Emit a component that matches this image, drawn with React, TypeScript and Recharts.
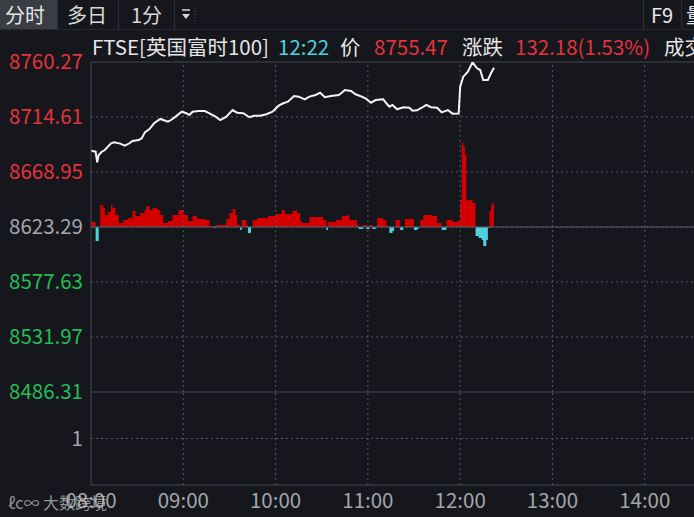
import {
  ComposedChart,
  Line,
  Area,
  XAxis,
  YAxis,
  ReferenceLine,
} from "recharts";

// minutes since 08:00 and the index level read at that minute
const priceMinutes = [
  0, 3, 4, 5, 7, 9, 11, 13, 15, 19, 22, 25, 27, 31, 33, 35, 38, 41, 45, 47,
  50, 52, 55, 59, 62, 64, 66, 70, 74, 77, 81, 84, 88, 92, 95, 99, 103, 106, 110, 114,
  118, 122, 125, 128, 132, 135, 139, 142, 146, 149, 152, 156, 161, 163, 165, 169, 172, 176, 179, 182,
  185, 190, 192, 194, 196, 199, 203, 207, 209, 212, 215, 218, 221, 225, 228, 232, 235, 239, 240, 242,
  245, 248, 251, 253, 255, 258, 260, 262,
];
const prices = [
  8686.6, 8685.8, 8677.0, 8683.1, 8685.8, 8687.2, 8690.0, 8692.8, 8693.6, 8692.5,
  8690.8, 8692.8, 8694.7, 8695.5, 8697.0, 8701.9, 8704.6, 8709.4, 8713.0, 8712.1,
  8710.7, 8712.1, 8714.9, 8719.0, 8717.7, 8716.3, 8719.0, 8719.6, 8719.6, 8717.7,
  8714.9, 8712.1, 8714.9, 8720.4, 8718.2, 8717.7, 8714.4, 8715.7, 8715.7, 8716.9,
  8719.0, 8724.0, 8726.0, 8727.3, 8732.0, 8731.5, 8729.3, 8731.5, 8732.9, 8734.8,
  8731.0, 8732.0, 8732.9, 8734.8, 8737.0, 8736.2, 8733.5, 8731.5, 8729.6, 8726.5,
  8728.7, 8729.3, 8726.0, 8723.2, 8724.6, 8721.0, 8722.7, 8722.3, 8719.8, 8720.2,
  8722.3, 8724.6, 8722.7, 8722.3, 8718.5, 8720.4, 8717.4, 8717.5, 8739.8, 8748.1,
  8752.2, 8760.0, 8755.0, 8753.6, 8745.3, 8745.3, 8750.9, 8755.47,
];

// buy/sell strength bars (red up, cyan down)
const strengthMinutes = [
  0, 3, 5, 6, 8, 9, 11, 13, 14, 16, 18, 21, 24, 27, 29, 32, 35, 36, 38, 40,
  43, 45, 47, 50, 53, 57, 60, 63, 66, 69, 74, 77, 80, 81, 85, 88, 90, 92, 94, 95,
  97, 98, 101, 102, 104, 105, 108, 115, 120, 124, 126, 131, 133, 134, 136, 137, 142, 151, 153, 154,
  159, 163, 167, 168, 173, 174, 177, 179, 181, 183, 185, 186, 190, 192, 194, 196, 197, 198, 201, 203,
  204, 210, 212, 213, 214, 216, 222, 225, 228, 231, 235, 238, 240, 241, 242, 243, 244, 245, 246, 248,
  250, 252, 254, 255, 257, 258, 259, 260, 261, 262,
];
const strengthValues = [
  5, -14, 0, 22, 19, 12, 15, 22, 19, 12, 4, 7, 9, 16, 11, 14, 17, 21, 17, 19,
  17, 12, 4, 6, 12, 17, 12, 6, 11, 8, 7, 1, -1, 2, 2, 8, 14, 18, 12, 2,
  -3, 7, 2, -6, 0, 7, 9, 11, 13, 17, 13, 16, 17, 14, 6, 4, 10, 7, -3, 5,
  7, 11, 12, 7, 2, -2, 2, -2, 2, -2, 0, 9, 7, 1, -6, -4, 0, 7, -3, 0,
  8, -3, -2, 0, 7, 12, 11, 4, -3, 7, 5, 6, 27, 84, 81, 72, 27, 26, 27, 24,
  -9, -11, -13, -19, -13, -1, 16, 22, 24, 24,
];

const prevClose = 8623.29;
const priceTicks = [8486.31, 8531.97, 8577.63, 8623.29, 8668.95, 8714.61, 8760.27];
const volumeTicks = [1];
const timeTicks = [0, 60, 120, 180, 240, 300, 360];
const timeLabels = ["08:00", "09:00", "10:00", "11:00", "12:00", "13:00", "14:00"];

const FONT = '"Noto Sans CJK SC", "Noto Sans", sans-serif';
const BG = "#15171c";
const RED = "#e3333b";
const GREEN = "#22bd55";
const GREY = "#a3a6ab";
const CYAN = "#4cd3df";
const GRID = "#555963";
const SOLID = "#45484f";

const table = (() => {
  const rows: Record<number, any> = {};
  priceMinutes.forEach((t, i) => {
    rows[t] = { ...(rows[t] || { t }), price: prices[i] };
  });
  strengthMinutes.forEach((t, i) => {
    const v = strengthValues[i];
    rows[t] = { ...(rows[t] || { t }), up: v > 0 ? v : 0, down: v < 0 ? v : 0 };
  });
  return Object.values(rows).sort((a, b) => a.t - b.t);
})();

const PriceTick = (props: any) => {
  const { x, y, payload } = props;
  const v = payload.value;
  const color = v > prevClose + 0.001 ? RED : v < prevClose - 0.001 ? GREEN : GREY;
  return (
    <text x={x} y={y} dy="0.355em" textAnchor="end" fill={color} fontSize={20.5} fontFamily={FONT}>
      {v.toFixed(2)}
    </text>
  );
};

const abs = (left: number, top: number, extra: any = {}) => ({
  position: "absolute" as const,
  left,
  top,
  whiteSpace: "nowrap" as const,
  ...extra,
});

const dotted = { stroke: GRID, strokeDasharray: "2 3", strokeWidth: 1 };

export default function App() {
  return (
    <div
      style={{
        position: "fixed",
        left: 0,
        top: 0,
        width: 694,
        height: 517,
        overflow: "hidden",
        background: BG,
        fontFamily: FONT,
        fontSize: 20,
        color: "#e6e6e6",
      }}
    >
      {/* toolbar */}
      <div style={abs(0, 0, { width: 57, height: 29, background: "#3a3d44" })} />
      <div style={abs(5, 1, { lineHeight: "28px" })}>分时</div>
      <div style={abs(57, 0, { width: 1, height: 29, background: "#2c2f35" })} />
      <div style={abs(67, 1, { lineHeight: "28px", color: "#d8d8d8" })}>多日</div>
      <div style={abs(118, 0, { width: 1, height: 29, background: "#2c2f35" })} />
      <div style={abs(131, 1, { lineHeight: "28px", color: "#d8d8d8" })}>1分</div>
      <div style={abs(174, 0, { width: 1, height: 29, background: "#2c2f35" })} />
      <svg style={abs(180, 8)} width={20} height={14}>
        <line x1={2} y1={2} x2={10} y2={2} stroke="#d8d8d8" strokeWidth={1.5} />
        <polygon points="2,6 10,6 6,11" fill="#d8d8d8" />
        <line x1={15} y1={0} x2={15} y2={14} stroke="#555" strokeDasharray="1 2" />
      </svg>
      <div style={abs(0, 29, { width: 694, height: 1, background: "#25282e" })} />
      <div style={abs(643, 0, { width: 1, height: 29, background: "#2c2f35" })} />
      <div style={abs(681, 0, { width: 1, height: 29, background: "#2c2f35" })} />
      <div style={abs(651, 1, { lineHeight: "28px", color: "#e8e8e8" })}>F9</div>
      <div style={abs(686, 1, { lineHeight: "28px", color: "#e8e8e8" })}>量</div>

      {/* header */}
      <div style={abs(92, 32, { lineHeight: "28px", fontSize: 20.5 })}>FTSE[英国富时100]</div>
      <div style={abs(278, 32, { lineHeight: "28px", color: CYAN, fontSize: 20.5 })}>12:22</div>
      <div style={abs(340, 32, { lineHeight: "28px", fontSize: 20.5 })}>价</div>
      <div style={abs(374, 32, { lineHeight: "28px", color: RED, fontSize: 20.5 })}>8755.47</div>
      <div style={abs(462, 32, { lineHeight: "28px", fontSize: 20.5 })}>涨跌</div>
      <div style={abs(515, 32, { lineHeight: "28px", color: RED, fontSize: 20.5 })}>132.18(1.53%)</div>
      <div style={abs(664, 32, { lineHeight: "28px", fontSize: 20.5 })}>成交</div>

      {/* price panel */}
      <div style={abs(0, 52)}>
        <ComposedChart
          width={694}
          height={350}
          data={table}
          margin={{ top: 10, right: 0, bottom: 10, left: 0 }}
        >
          <XAxis
            dataKey="t"
            type="number"
            domain={[0, 392]}
            ticks={timeTicks}
            allowDataOverflow
            hide
          />
          <YAxis
            yAxisId="p"
            type="number"
            domain={[priceTicks[0], priceTicks[priceTicks.length - 1]]}
            ticks={priceTicks}
            width={91}
            tickLine={false}
            axisLine={{ stroke: SOLID }}
            tick={<PriceTick />}
            allowDataOverflow
          />
          <YAxis yAxisId="s" type="number" domain={[-165, 165]} hide allowDataOverflow />
          {priceTicks.slice(1, -1).map((v) => (
            <ReferenceLine key={"h" + v} yAxisId="p" y={v} {...dotted} />
          ))}
          {timeTicks.slice(1).map((v) => (
            <ReferenceLine key={"v" + v} yAxisId="p" x={v} {...dotted} />
          ))}
          <ReferenceLine yAxisId="p" y={priceTicks[6]} stroke={SOLID} />
          <ReferenceLine yAxisId="p" y={priceTicks[0]} stroke={SOLID} />
          <ReferenceLine yAxisId="p" y={prevClose} stroke="#5a5d64" />
          <Area
            yAxisId="s"
            dataKey="up"
            type="stepAfter"
            baseValue={0}
            stroke="none"
            fill="#d40000"
            fillOpacity={1}
            connectNulls
            isAnimationActive={false}
          />
          <Area
            yAxisId="s"
            dataKey="down"
            type="stepAfter"
            baseValue={0}
            stroke="none"
            fill={CYAN}
            fillOpacity={1}
            connectNulls
            isAnimationActive={false}
          />
          <Line
            yAxisId="p"
            dataKey="price"
            type="linear"
            stroke="#f4f4f4"
            strokeWidth={2}
            dot={false}
            connectNulls
            isAnimationActive={false}
          />
        </ComposedChart>
      </div>

      {/* volume panel + time axis */}
      <div style={abs(0, 392)}>
        <ComposedChart
          width={694}
          height={125}
          data={table}
          margin={{ top: 0, right: 0, bottom: 0, left: 0 }}
        >
          <XAxis
            dataKey="t"
            type="number"
            domain={[0, 392]}
            ticks={timeTicks}
            tickFormatter={(v: number) => timeLabels[timeTicks.indexOf(v)] ?? ""}
            tickLine={false}
            axisLine={{ stroke: SOLID }}
            tick={{ fill: GREY, fontSize: 20.5, fontFamily: FONT }}
            height={32}
            interval={0}
            allowDataOverflow
          />
          <YAxis
            type="number"
            domain={[0, 2]}
            ticks={volumeTicks}
            width={91}
            tickLine={false}
            axisLine={{ stroke: SOLID }}
            tick={{ fill: GREY, fontSize: 20.5, fontFamily: FONT }}
            allowDataOverflow
          />
          {volumeTicks.map((v) => (
            <ReferenceLine key={"vh" + v} y={v} {...dotted} />
          ))}
          {timeTicks.slice(1).map((v) => (
            <ReferenceLine key={"vv" + v} x={v} {...dotted} />
          ))}
        </ComposedChart>
      </div>

      {/* watermark */}
      <div
        style={abs(8, 491, {
          fontSize: 16,
          lineHeight: "22px",
          color: "rgba(205,205,205,0.7)",
        })}
      >
        ℓc∞ 大数跨境
      </div>
    </div>
  );
}
